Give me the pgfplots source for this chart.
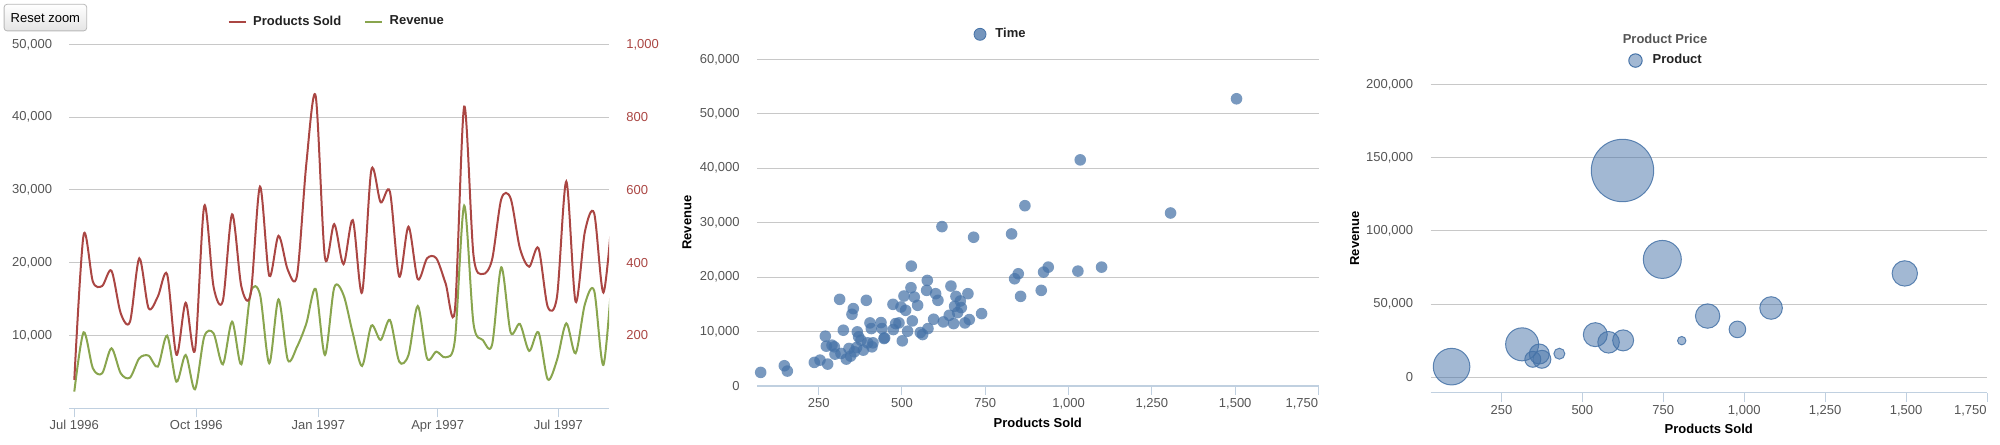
\documentclass[border=0pt]{standalone}
\usepackage{pgfplots}
\pgfplotsset{compat=1.18}
\usepackage{fontspec}
\setmainfont{Liberation Sans}
\definecolor{hcred}{HTML}{AA4643}
\definecolor{hcgreen}{HTML}{89A54E}
\definecolor{hcblue}{HTML}{4572A7}
\definecolor{gridc}{HTML}{C8C8C8}
\definecolor{axisc}{HTML}{C0D0E0}
\definecolor{labelc}{HTML}{555555}
\definecolor{legc}{HTML}{222222}
\definecolor{titlec}{HTML}{555555}
\definecolor{btnc}{HTML}{B8B8B8}
\definecolor{btnbot}{HTML}{E4E4E4}
\newcommand\tfont{\fontsize{6.5}{7.8}\selectfont}
\newcommand\bfont{\fontsize{6.5}{7.8}\selectfont\bfseries}
\def\rad{2}
\pgfdeclareplotmark{bubble}{\pgfpathcircle{\pgfpointorigin}{\rad pt}\pgfusepathqfillstroke}

\pgfplotstableread{
d p r
0 78 2290
7 476 10440
14 348 5495
21 336 4808
28 378 8242
35 261 4808
42 238 4213
49 412 6869
56 275 7235
63 307 5724
70 368 9982
77 147 3663
84 290 7326
91 160 2610
98 556 9845
105 334 10303
112 295 6044
119 533 11905
126 334 6044
133 314 15889
140 609 15660
147 364 6182
154 474 14973
161 380 6640
168 366 8471
175 673 11676
182 858 16393
189 414 7326
196 506 16576
203 396 15569
210 517 10303
217 318 5815
224 655 11356
231 566 9387
238 595 12134
245 362 6411
252 499 7326
259 355 14058
266 412 6869
273 412 7784
280 343 7006
287 270 9387
294 829 27840
301 421 11676
308 369 9387
315 408 8700
322 575 19369
329 577 10440
336 440 11585
343 389 7876
350 440 10440
357 279 3984
364 307 6640
371 623 11676
378 293 7555
385 485 14286
392 536 16164
399 318 5953
406 552 19740
}\timedata

\pgfplotstableread{
x y
76 2500
147 3720
156 2744
237 4330
254 4756
277 4025
270 9147
273 7318
290 7500
297 7196
299 5854
313 15915
324 10245
317 5976
333 4940
341 6890
346 5488
350 13172
354 14209
357 6281
364 7074
366 9940
370 9025
377 8415
384 6586
393 15733
397 7927
404 11586
408 10550
410 7196
413 7927
437 11647
440 10550
446 8720
448 8842
473 15001
474 10367
481 11464
491 11586
497 14513
501 8293
506 16525
511 13903
517 10062
527 18050
528 22014
531 11952
537 16343
547 14818
555 9818
562 9452
574 17562
576 19392
578 10550
595 12257
601 16952
608 15733
620 29270
624 11769
642 12989
647 18355
655 11464
658 14635
662 16464
667 13477
675 15611
678 14391
689 11586
698 16952
702 12196
715 27319
739 13294
829 27929
838 19697
849 20612
856 16464
869 33112
918 17562
925 20916
939 21831
1028 21099
1035 41528
1099 21831
1306 31771
1504 52749
}\scatterdata

\pgfplotstableread{
x y r
96 7270 9.15
314 22500 8.25
367 15900 5
347 12300 4
375 12300 4.5
429 16100 2.75
540 29100 6
581 23900 5.4
626 25200 5.25
624 141150 15.6
747 80460 9.5
807 25000 2.1
887 41800 6.1
979 32700 4.15
1083 47300 5.65
1496 70900 6.35
}\bubbledata

\pgfplotsset{
  hc/.style={
    scale only axis,
    /pgf/number format/assume math mode=true,
    /pgf/number format/fixed,
    /pgf/number format/precision=0,
    /pgf/number format/1000 sep={,},
    scaled ticks=false,
    tick label style={font=\tfont, text=labelc},
    xticklabel style={anchor=base, inner sep=0pt, yshift=-6.2pt},
    tick align=outside,
    major tick length=4.5pt,
    xtick style={draw=axisc, line width=0.5pt},
    ytick style={draw=none},
    ymajorgrids,
    grid style={draw=gridc, line width=0.5pt},
    axis x line*=bottom,
    axis y line*=left,
    y axis line style={draw=none},
    x axis line style={draw=axisc, line width=0.5pt, -},
    label style={font=\bfont, text=black},
    legend style={draw=none, fill=none, inner sep=0pt, font=\bfont, text=legc,
      legend columns=-1, anchor=center, nodes={inner sep=0pt}},
  }
}

\begin{document}
\begin{tikzpicture}
\useasboundingbox (0,0) rectangle (1000pt,222pt);

% ---- left chart: revenue (left axis)
\begin{axis}[hc, at={(34.7pt,17.85pt)}, anchor=south west,
  width=269.8pt, height=182pt,
  xmin=-3.7, xmax=403.2, ymin=0, ymax=50000,
  xtick={0,92,184,274,365},
  xticklabels={Jul 1996, Oct 1996, Jan 1997, Apr 1997, Jul 1997},
  ytick={10000,20000,...,50000},
  yticklabel style={anchor=east, inner sep=0pt, xshift=-4pt},
]
\addplot[hcgreen, line width=1pt, smooth] table[x=d, y=r] {\timedata};
\end{axis}

% ---- left chart: products sold (right axis)
\begin{axis}[hc, at={(34.7pt,17.85pt)}, anchor=south west,
  width=269.8pt, height=182pt,
  xmin=-3.7, xmax=403.2, ymin=0, ymax=1000,
  axis x line=none, axis y line*=right, ymajorgrids=false,
  ytick={200,400,...,1000},
  yticklabel style={anchor=west, inner sep=0pt, xshift=4pt, text=hcred},
  legend style={at={(axis description cs:0.4937,1.0618)},
    /tikz/every odd column/.append style={column sep=3.2pt},
    /tikz/every even column/.append style={column sep=11.5pt}},
  legend image code/.code={\draw[#1, line width=1pt] (0,0) -- (8.5pt,0);},
]
\addplot[hcred, line width=1pt, smooth] table[x=d, y=p] {\timedata};
\addlegendentry{Products Sold}
\addlegendimage{hcgreen, line width=1pt}
\addlegendentry{Revenue}
\end{axis}

% ---- middle chart: scatter
\begin{axis}[hc, at={(378.5pt,29pt)}, anchor=south west,
  width=280.75pt, height=163.35pt,
  xmin=65, xmax=1750, ymin=0, ymax=60000,
  xtick={250,500,...,1500},
  extra x ticks={1750},
  extra x tick style={xticklabel style={anchor=base east}},
  ytick={0,10000,...,60000},
  yticklabel style={anchor=east, inner sep=0pt, xshift=-4pt},
  x axis line style={line width=0.75pt},
  xlabel={Products Sold}, ylabel={Revenue},
  xlabel style={at={(axis description cs:0.5,-0.1133)}, anchor=center},
  ylabel style={at={(axis description cs:-0.1247,0.5)}, anchor=center},
  legend style={at={(axis description cs:0.432,1.0765)},
    /tikz/every odd column/.append style={column sep=4.5pt}},
  legend image code/.code={\fill[hcblue, fill opacity=0.75] (3pt,0) circle (3pt);},
]
\addplot[hcblue, only marks, mark=*, mark size=2.9pt,
  mark options={draw=hcblue, draw opacity=0, fill=hcblue, fill opacity=0.72}] table[x=x, y=y] {\scatterdata};
\addlegendentry{Time}
\end{axis}

% ---- right chart: bubbles
\begin{axis}[hc, at={(715.25pt,25.65pt)}, anchor=south west,
  width=278.25pt, height=154.2pt,
  xmin=31, xmax=1750, ymin=-10512, ymax=200000,
  xtick={250,500,...,1500},
  extra x ticks={1750},
  extra x tick style={xticklabel style={anchor=base east}},
  ytick={0,50000,...,200000},
  yticklabel style={anchor=east, inner sep=0pt, xshift=-4pt},
  x axis line style={line width=0.75pt},
  xlabel={Products Sold}, ylabel={Revenue},
  xlabel style={at={(axis description cs:0.5,-0.1177)}, anchor=center},
  ylabel style={at={(axis description cs:-0.1362,0.5)}, anchor=center},
  title={Product Price},
  title style={at={(axis description cs:0.4214,1.1099)}, anchor=center, font=\bfont, text=titlec},
  legend style={at={(axis description cs:0.4214,1.077)},
    /tikz/every odd column/.append style={column sep=5pt}},
  legend image code/.code={\draw[hcblue, fill=hcblue, fill opacity=0.5, line width=0.5pt] (3.35pt,0) circle (3.35pt);},
]
\addplot[scatter, only marks, mark=bubble,
  visualization depends on={\thisrow{r}\as\rad},
  scatter/use mapped color={draw=hcblue, fill=hcblue},
  mark options={fill opacity=0.5, draw opacity=0.85, line width=0.5pt}] table[x=x, y=y] {\bubbledata};
\addlegendentry{Product}
\end{axis}

\node[draw=btnc, rounded corners=1.5pt, top color=white, bottom color=btnbot,
  minimum width=41.3pt, minimum height=13.3pt, inner sep=0pt, font=\tfont]
  at (22.7pt,213.2pt) {Reset zoom};
\end{tikzpicture}
\end{document}
